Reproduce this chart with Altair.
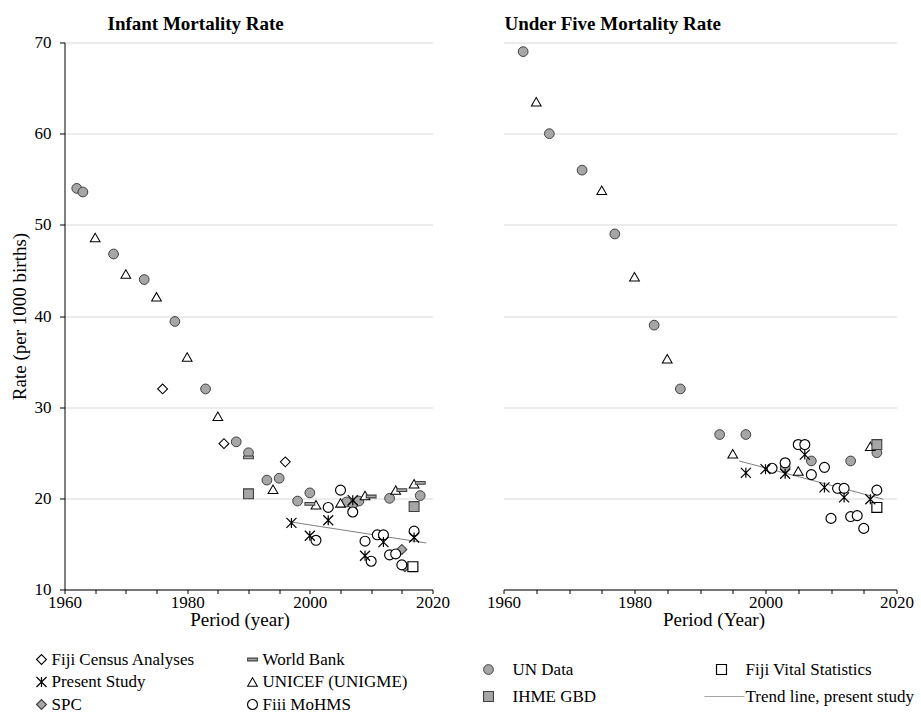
import altair as alt
import pandas as pd

FONT = "Liberation Serif"

# ---------------- Infant Mortality Rate (left panel) ----------------
imr_un_year = [1962, 1963, 1968, 1973, 1978, 1983, 1988, 1990, 1993, 1995, 1998, 2000, 2006, 2008, 2013, 2018]
imr_un_val = [54.0, 53.6, 46.8, 44.0, 39.4, 32.0, 26.2, 25.0, 22.0, 22.2, 19.7, 20.6, 19.6, 19.7, 20.0, 20.3]

imr_unicef_year = [1965, 1970, 1975, 1980, 1985, 1994, 2001, 2005, 2009, 2014, 2017]
imr_unicef_val = [48.6, 44.6, 42.1, 35.5, 29.0, 21.0, 19.3, 19.5, 20.3, 20.9, 21.6]

imr_wb_year = [1990, 2000, 2010, 2015, 2018]
imr_wb_val = [24.5, 19.4, 20.2, 20.9, 21.7]

imr_census_year = [1976, 1986, 1996]
imr_census_val = [32.0, 26.0, 24.0]

imr_ihme_year = [1990, 2017]
imr_ihme_val = [20.5, 19.1]

imr_spc_year = [2007, 2015, 2015.5]
imr_spc_val = [19.2, 14.4, 12.5]

imr_mohms_year = [2001, 2003, 2005, 2007, 2009, 2010, 2011, 2012, 2013, 2014, 2015, 2017]
imr_mohms_val = [15.4, 19.0, 20.9, 18.5, 15.3, 13.1, 16.0, 16.0, 13.8, 13.9, 12.7, 16.4]

imr_vital_year = [2016.8]
imr_vital_val = [12.5]

imr_present_year = [1997, 2000, 2003, 2007, 2009, 2012, 2017]
imr_present_val = [17.3, 15.9, 17.6, 19.8, 13.7, 15.2, 15.7]

imr_trend_year = [1997, 2019]
imr_trend_val = [17.4, 15.1]

# ---------------- Under Five Mortality Rate (right panel) ----------------
u5_un_year = [1963, 1967, 1972, 1977, 1983, 1987, 1993, 1997, 2003, 2007, 2013, 2017]
u5_un_val = [69.0, 60.0, 56.0, 49.0, 39.0, 32.0, 27.0, 27.0, 23.4, 24.1, 24.1, 25.0]

u5_unicef_year = [1965, 1975, 1980, 1985, 1995, 2005, 2016]
u5_unicef_val = [63.5, 53.8, 44.3, 35.3, 24.9, 23.0, 25.7]

u5_mohms_year = [2001, 2003, 2005, 2006, 2007, 2009, 2010, 2011, 2012, 2013, 2014, 2015, 2017]
u5_mohms_val = [23.3, 23.9, 25.9, 25.9, 22.6, 23.4, 17.8, 21.1, 21.1, 18.0, 18.1, 16.7, 20.9]

u5_ihme_year = [2017]
u5_ihme_val = [25.9]

u5_vital_year = [2017]
u5_vital_val = [19.0]

u5_present_year = [1997, 2000, 2003, 2006, 2009, 2012, 2016]
u5_present_val = [22.8, 23.2, 22.7, 24.8, 21.2, 20.1, 19.9]

u5_trend_year = [1996, 2018]
u5_trend_val = [24.1, 19.9]

# ---------------- legend entries ----------------
leg_left_series = ["Fiji Census Analyses", "Present Study", "SPC", "World Bank", "UNICEF (UNIGME)", "Fiii MoHMS"]
leg_left_col = [0, 0, 0, 1, 1, 1]
leg_left_row = [0, 1, 2, 0, 1, 2]

leg_right_series = ["UN Data", "IHME GBD", "Fiji Vital Statistics"]
leg_right_col = [0, 0, 1]
leg_right_row = [0, 1, 0]
trend_label = ["Trend line, present study"]

# ---------------- series styling ----------------
series_names = ["UN Data", "UNICEF (UNIGME)", "World Bank", "Fiji Census Analyses", "IHME GBD",
                "SPC", "Fiii MoHMS", "Fiji Vital Statistics", "Present Study"]
STAR = "M-1,-1L1,1M-1,1L1,-1M0,-1L0,1"
DASH = "M-1,-0.28L1,-0.28L1,0.28L-1,0.28Z"
shapes = ["circle", "triangle-up", DASH, "diamond", "square", "diamond", "circle", "square", STAR]
fills = ["#a6a6a6", "white", "#a6a6a6", "white", "#a6a6a6", "#a6a6a6", "white", "white", "transparent"]
strokes = ["#404040", "black", "#404040", "black", "#404040", "#404040", "black", "black", "black"]
sizes = [95, 100, 130, 85, 125, 110, 60, 125, 170]
stroke_widths = [1, 1.2, 0.8, 1.2, 1, 1, 1, 1.2, 2.2]
legend_sizes = [70, 80, 110, 50, 70, 55, 40, 70, 110]


def long_table(pairs):
    frames = []
    for name, yrs, vals in pairs:
        frames.append(pd.DataFrame({"series": name, "year": yrs, "value": vals}))
    df = pd.concat(frames, ignore_index=True)
    df["order"] = df["series"].map({s: i for i, s in enumerate(series_names)})
    return df.sort_values("order", kind="stable")


imr_df = long_table([
    ("UN Data", imr_un_year, imr_un_val),
    ("UNICEF (UNIGME)", imr_unicef_year, imr_unicef_val),
    ("World Bank", imr_wb_year, imr_wb_val),
    ("Fiji Census Analyses", imr_census_year, imr_census_val),
    ("IHME GBD", imr_ihme_year, imr_ihme_val),
    ("SPC", imr_spc_year, imr_spc_val),
    ("Fiii MoHMS", imr_mohms_year, imr_mohms_val),
    ("Fiji Vital Statistics", imr_vital_year, imr_vital_val),
    ("Present Study", imr_present_year, imr_present_val),
])
u5_df = long_table([
    ("UN Data", u5_un_year, u5_un_val),
    ("UNICEF (UNIGME)", u5_unicef_year, u5_unicef_val),
    ("IHME GBD", u5_ihme_year, u5_ihme_val),
    ("Fiii MoHMS", u5_mohms_year, u5_mohms_val),
    ("Fiji Vital Statistics", u5_vital_year, u5_vital_val),
    ("Present Study", u5_present_year, u5_present_val),
])
imr_trend = pd.DataFrame({"year": imr_trend_year, "value": imr_trend_val})
u5_trend = pd.DataFrame({"year": u5_trend_year, "value": u5_trend_val})

shape_scale = alt.Scale(domain=series_names, range=shapes)
fill_scale = alt.Scale(domain=series_names, range=fills)
stroke_scale = alt.Scale(domain=series_names, range=strokes)
size_scale = alt.Scale(domain=series_names, range=sizes)
sw_scale = alt.Scale(domain=series_names, range=stroke_widths)
leg_size_scale = alt.Scale(domain=series_names, range=legend_sizes)

PLOT_H = 547


def style_enc(size_sc):
    return dict(
        shape=alt.Shape("series:N", scale=shape_scale, legend=None),
        fill=alt.Fill("series:N", scale=fill_scale, legend=None),
        stroke=alt.Stroke("series:N", scale=stroke_scale, legend=None),
        size=alt.Size("series:N", scale=size_sc, legend=None),
        strokeWidth=alt.StrokeWidth("series:N", scale=sw_scale, legend=None),
    )


def legend_layer(series, cols, rows, xrange, ydomain, yrange, dx, extra_line=None):
    d = pd.DataFrame({"series": series, "col": cols, "row": rows})
    xs = alt.X("col:Q", scale=alt.Scale(domain=[0, 1], range=xrange), axis=None)
    ys = alt.Y("row:Q", scale=alt.Scale(domain=ydomain, range=yrange), axis=None)
    pts = alt.Chart(d).mark_point(filled=True, opacity=1).encode(x=xs, y=ys, **style_enc(leg_size_scale))
    txt = alt.Chart(d).mark_text(align="left", baseline="middle", dx=dx, font=FONT,
                                 fontSize=17, color="black").encode(x=xs, y=ys, text="series:N")
    layers = [pts, txt]
    if extra_line is not None:
        ld = pd.DataFrame({"label": extra_line[0], "col": [extra_line[1]], "row": [extra_line[2]]})
        tick = alt.Chart(ld).mark_tick(orient="horizontal", color="#7f7f7f", thickness=1,
                                       size=40, xOffset=3).encode(x=xs, y=ys)
        ltxt = alt.Chart(ld).mark_text(align="left", baseline="middle", dx=dx, font=FONT,
                                       fontSize=17, color="black").encode(x=xs, y=ys, text="label:N")
        layers += [tick, ltxt]
    return alt.layer(*layers)


def panel(df, trend, title, title_dx, title_offset, show_y, xtitle, width, xtitle_x, legend):
    x = alt.X(
        "year:Q",
        scale=alt.Scale(domain=[1960, 2020], nice=False, zero=False),
        axis=alt.Axis(
            values=list(range(1960, 2021, 5)),
            labelExpr="datum.value % 20 == 0 ? datum.label : ''",
            format="d", labelFlush=False, grid=False, tickSize=4, tickColor="black",
            domainColor="black", labelPadding=1, title=xtitle, titlePadding=0, titleX=xtitle_x,
        ),
    )
    if show_y:
        yaxis = alt.Axis(values=list(range(10, 71, 10)), grid=True, gridColor="#d9d9d9",
                         tickSize=5, tickColor="black", domainColor="black", labelPadding=8.5,
                         title="Rate (per 1000 births)", titlePadding=5)
    else:
        yaxis = alt.Axis(values=list(range(10, 71, 10)), grid=True, gridColor="#d9d9d9",
                         labels=False, ticks=False, domain=False, title=None,
                         minExtent=0, maxExtent=0)
    y = alt.Y("value:Q", scale=alt.Scale(domain=[10, 70], nice=False, zero=False), axis=yaxis)

    line = alt.Chart(trend).mark_line(color="#7f7f7f", strokeWidth=1).encode(x=x, y=y)
    pts = alt.Chart(df).mark_point(filled=True, opacity=1).encode(
        x=x, y=y, **style_enc(size_scale)
    )
    data_layer = alt.layer(line, pts)
    return alt.layer(data_layer, legend).resolve_scale(x="independent", y="independent").properties(
        width=width, height=PLOT_H,
        title=alt.TitleParams(title, anchor="start", frame="group", dx=title_dx,
                              fontSize=19, font=FONT, fontWeight="bold", color="black",
                              offset=title_offset),
    )


legL = legend_layer(leg_left_series, leg_left_col, leg_left_row, [-23, 188], [0, 2], [617, 662], 10)
legR = legend_layer(leg_right_series, leg_right_col, leg_right_row, [-15, 218], [0, 1], [627, 654], 24,
                    extra_line=(trend_label, 1, 1))

left = panel(imr_df, imr_trend, "Infant Mortality Rate", 43, 0, True, "Period (year)", 368, 175, legL)
right = panel(u5_df, u5_trend, "Under Five Mortality Rate", 1, 8.5, False, "Period (Year)", 393, 210, legR)

chart = alt.hconcat(left, right, spacing=31).properties(
    padding={"left": 9.5, "top": 14.5, "right": 0, "bottom": 0}
).configure_view(stroke=None).configure_axis(
    labelFont=FONT, titleFont=FONT, labelFontSize=17, titleFontSize=19,
    labelColor="black", titleColor="black", titleFontWeight="normal",
)

chart.save("out.html", embed_options={"renderer": "svg", "actions": False})
